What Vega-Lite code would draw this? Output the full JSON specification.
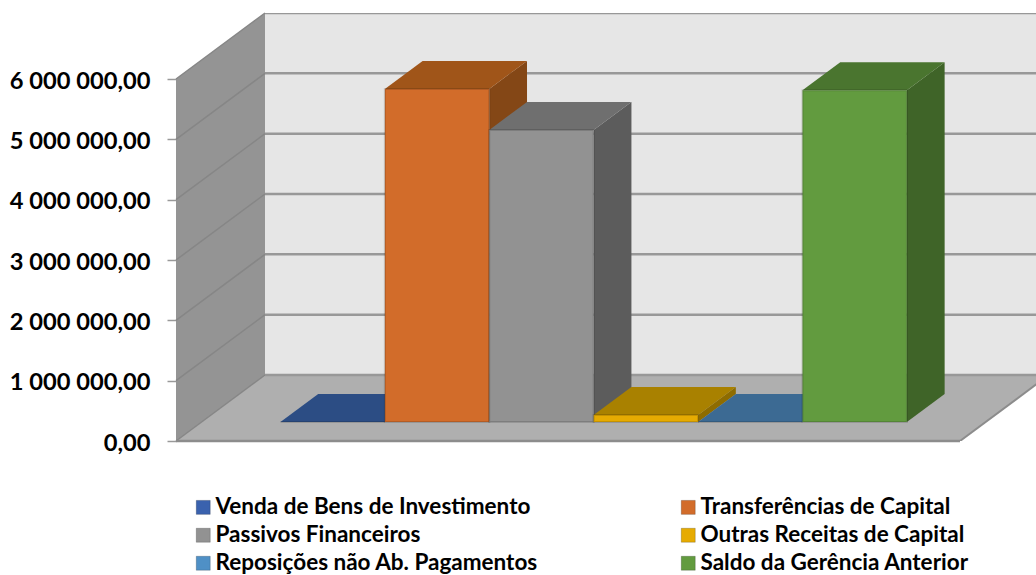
{
"$schema":"https://vega.github.io/schema/vega-lite/v6.json",
"width":860,"height":428,
"autosize":{"type":"none"},
"padding":{"left":176,"top":13,"right":0,"bottom":134},
"background":"white",
"config":{"view":{"stroke":null},"locale":{"number":{"decimal":",","thousands":" ","grouping":[3],"currency":["",""]}}},
"datasets":{
"barras":[
{"serie":"Venda de Bens de Investimento","valor":0},
{"serie":"Transferências de Capital","valor":5520000},
{"serie":"Passivos Financeiros","valor":4840000},
{"serie":"Outras Receitas de Capital","valor":116000},
{"serie":"Reposições não Ab. Pagamentos","valor":0},
{"serie":"Saldo da Gerência Anterior","valor":5500000}
],
"grade":[{"v":0},{"v":1000000},{"v":2000000},{"v":3000000},{"v":4000000},{"v":5000000},{"v":6000000}],
"paredes":[
{"plano":"lateral","px":-0.76,"de":0,"ate":6000000},
{"plano":"lateral","px":0.0925,"de":1094000,"ate":7094000},
{"plano":"fundo","px":0.0925,"de":1094000,"ate":7094000},
{"plano":"fundo","px":7.6,"de":1094000,"ate":7094000}
],
"chao":[
{"nivel":0,"xa":-0.76,"xb":6.749},
{"nivel":1094000,"xa":0.0925,"xb":7.6}
]
},
"layer":[
{"data":{"name":"paredes"},"transform":[{"filter":"datum.plano==='fundo'"}],
 "mark":{"type":"area","color":"#e6e6e6","clip":true},
 "encoding":{"x":{"field":"px","type":"quantitative","axis":null,"scale":{"domain":[-0.76,7.477],"nice":false,"zero":false}},
 "y":{"field":"de","type":"quantitative","title":null,"scale":{"domain":[0,7094000],"nice":false,"zero":false},
   "axis":{"values":[0,1000000,2000000,3000000,4000000,5000000,6000000],"format":",.2f","domain":false,"grid":false,"tickSize":9,"tickColor":"#999999","tickWidth":1.5,"labelFont":"Lato","labelFontWeight":"bold","labelFontSize":23.7,"labelColor":"#000000","labelPadding":17,"labelOffset":2,"title":null}},
 "y2":{"field":"ate"}}},
{"data":{"name":"paredes"},"transform":[{"filter":"datum.plano==='lateral'"}],
 "mark":{"type":"area","color":"#949494"},
 "encoding":{"x":{"field":"px","type":"quantitative","axis":null},"y":{"field":"de","type":"quantitative","title":null},"y2":{"field":"ate"}}},
{"data":{"name":"chao"},
 "mark":{"type":"area","orient":"horizontal","color":"#afafaf","clip":true},
 "encoding":{"y":{"field":"nivel","type":"quantitative","title":null},"x":{"field":"xa","type":"quantitative","axis":null},"x2":{"field":"xb"}}},
{"data":{"name":"grade"},"transform":[{"calculate":"datum.v+1094000","as":"vb"}],
 "mark":{"type":"rule","color":"#868686","strokeWidth":1.5},
 "encoding":{"x":{"datum":-0.76,"type":"quantitative","axis":null},"x2":{"datum":0.0925},"y":{"field":"v","type":"quantitative","title":null},"y2":{"field":"vb"}}},
{"data":{"name":"grade"},"transform":[{"calculate":"datum.v+1094000","as":"vb"}],
 "mark":{"type":"rule","color":"#989898","strokeWidth":2.5,"clip":true},
 "encoding":{"x":{"datum":0.0925,"type":"quantitative","axis":null},"x2":{"datum":7.6},"y":{"field":"vb","type":"quantitative","title":null}}},
{"data":{"name":"grade"},"transform":[{"filter":"datum.v===0"}],
 "mark":{"type":"rule","color":"#8c8c8c","strokeWidth":2.5},
 "encoding":{"x":{"datum":-0.76,"type":"quantitative","axis":null},"x2":{"datum":6.749},"y":{"field":"v","type":"quantitative","title":null}}},
{"data":{"name":"grade"},"transform":[{"filter":"datum.v===0"},{"calculate":"datum.v+1094000","as":"vb"}],
 "mark":{"type":"rule","color":"#8c8c8c","strokeWidth":2,"clip":true},
 "encoding":{"x":{"datum":6.749,"type":"quantitative","axis":null},"x2":{"datum":7.6},"y":{"field":"v","type":"quantitative","title":null},"y2":{"field":"vb"}}},
{"data":{"name":"barras"},
 "transform":[{"window":[{"op":"row_number","as":"n"}]},
  {"calculate":"datum.valor+315000","as":"frente"},{"calculate":"datum.valor+779000","as":"fundo"},
  {"fold":["frente","fundo"],"as":["face","topo"]},
  {"calculate":"datum.n+(datum.face==='frente'?0.2405:0.602)","as":"xd"},
  {"calculate":"datum.topo-datum.valor","as":"pe"}],
 "mark":{"type":"area"},
 "encoding":{"x":{"field":"xd","type":"quantitative","axis":null},"y":{"field":"topo","type":"quantitative","title":null},"y2":{"field":"pe"},
  "color":{"field":"serie","type":"nominal","legend":null,"sort":null,"scale":{"domain":["Venda de Bens de Investimento","Transferências de Capital","Passivos Financeiros","Outras Receitas de Capital","Reposições não Ab. Pagamentos","Saldo da Gerência Anterior"],"range":["#24406f","#844716","#5c5c5c","#8e6c00","#2f5878","#3f6428"]}}}},
{"data":{"name":"barras"},
 "transform":[{"window":[{"op":"row_number","as":"n"}]},
  {"calculate":"datum.valor+315000","as":"frente"},{"calculate":"datum.valor+779000","as":"fundo"},
  {"fold":["frente","fundo"],"as":["face","topo"]},
  {"calculate":"datum.n-1+(datum.face==='frente'?0.2405:0.602)","as":"xe"},
  {"calculate":"datum.xe+1","as":"xd"}],
 "mark":{"type":"area","orient":"horizontal"},
 "encoding":{"y":{"field":"topo","type":"quantitative","title":null},"x":{"field":"xe","type":"quantitative","axis":null},"x2":{"field":"xd"},
  "color":{"field":"serie","type":"nominal","legend":null,"sort":null,"scale":{"domain":["Venda de Bens de Investimento","Transferências de Capital","Passivos Financeiros","Outras Receitas de Capital","Reposições não Ab. Pagamentos","Saldo da Gerência Anterior"],"range":["#2c4d84","#a05519","#6f6f6f","#a98100","#3c6a93","#4a752f"]}}}},
{"data":{"name":"barras"},
 "transform":[{"window":[{"op":"row_number","as":"n"}]},
  {"calculate":"datum.n-1+0.2405","as":"xe"},{"calculate":"datum.xe+1","as":"xd"},
  {"calculate":"datum.valor+315000","as":"topo"},{"calculate":"315000","as":"pe"}],
 "mark":{"type":"rect","stroke":"#000000","strokeOpacity":0.14,"strokeWidth":2},
 "encoding":{"x":{"field":"xe","type":"quantitative","axis":null},"x2":{"field":"xd"},"y":{"field":"pe","type":"quantitative","title":null},"y2":{"field":"topo"},
  "color":{"field":"serie","type":"nominal","sort":null,"title":null,
   "scale":{"domain":["Venda de Bens de Investimento","Transferências de Capital","Passivos Financeiros","Outras Receitas de Capital","Reposições não Ab. Pagamentos","Saldo da Gerência Anterior"],"range":["#3a62ae","#d26c2a","#929292","#e6ab02","#4f90c6","#629b3f"]},
   "legend":{"orient":"none","legendX":16,"legendY":483,"direction":"horizontal","columns":2,"columnPadding":139,"rowPadding":5,"symbolType":"square","symbolSize":196,"symbolOpacity":1,"symbolStrokeColor":"#00000030","symbolStrokeWidth":1,"labelFont":"Lato","labelFontWeight":"bold","labelFontSize":22.5,"labelColor":"#000000","labelLimit":400,"labelOffset":1}}}}
],
"resolve":{"scale":{"color":"independent"}}
}
